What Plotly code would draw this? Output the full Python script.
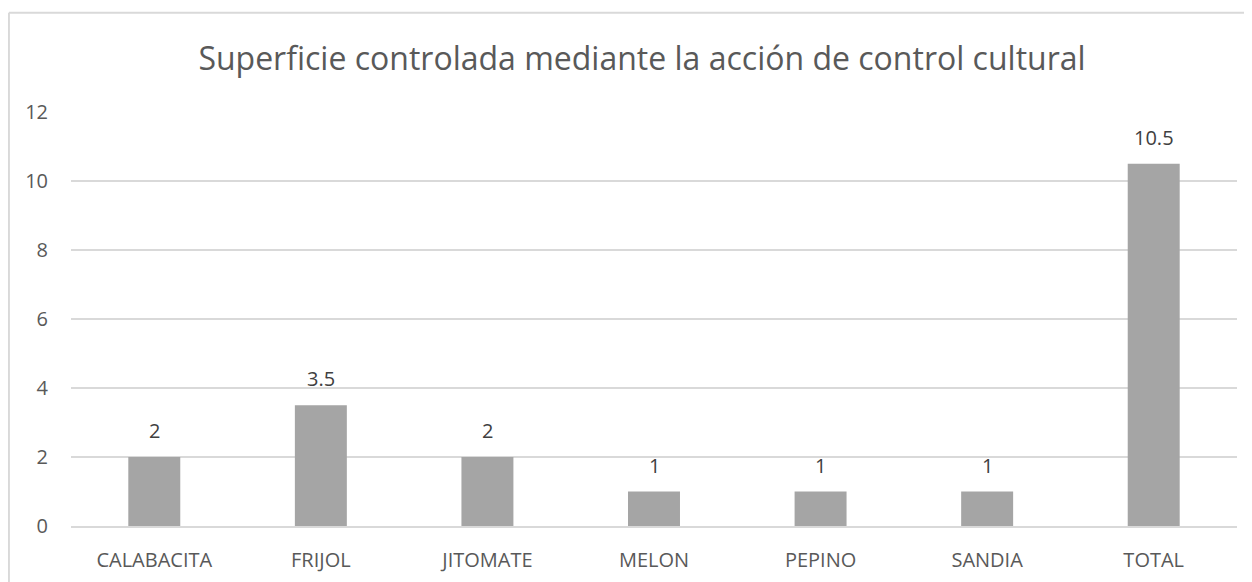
import plotly.graph_objects as go

categories = ["CALABACITA", "FRIJOL", "JITOMATE", "MELON", "PEPINO", "SANDIA", "TOTAL"]
values = [2, 3.5, 2, 1, 1, 1, 10.5]
labels = ["2", "3.5", "2", "1", "1", "1", "10.5"]
title_text = "Superficie controlada mediante la acción de control cultural"

# the page body has an 8px margin, so the figure is drawn 8px to the right and down
OFF = 8
W, H = 1252 - OFF, 582 - OFF
L, R, T, B = 70.7 - OFF, 1237 - OFF, 111.7 - OFF, 526 - OFF

FONT = "Open Sans, sans-serif"

fig = go.Figure(go.Bar(
    x=categories, y=values,
    marker=dict(color="#A5A5A5", line=dict(width=0)),
))

for c, v, t in zip(categories, values, labels):
    fig.add_annotation(x=c, y=v, text=t, showarrow=False, yanchor="bottom",
                       yshift=11, font=dict(family=FONT, size=20, color="#404040"))

pw = R - L
ph = B - T
bx = (0.6 - L) / pw
by = 1 + (T - (12.5 - OFF)) / ph
fig.update_layout(
    width=W, height=H,
    paper_bgcolor="white", plot_bgcolor="white",
    margin=dict(l=L, r=W - R, t=T, b=H - B, pad=0),
    bargap=0.688,
    showlegend=False,
    title=dict(text=title_text, x=(642 - OFF) / W, xanchor="center",
               y=1 - (58.5 - OFF) / H, yanchor="middle",
               font=dict(family=FONT, size=32, color="#595959")),
    xaxis=dict(showgrid=False, showline=True, linecolor="#D9D9D9", linewidth=1.5,
               ticks="", tickfont=dict(family=FONT, size=20, color="#595959"),
               ticklabelstandoff=15, automargin=False),
    yaxis=dict(range=[0, 12], dtick=2, showgrid=True, gridcolor="#D9D9D9", gridwidth=1.5,
               zeroline=False, showline=False, ticks="",
               tickfont=dict(family=FONT, size=20, color="#595959"),
               ticklabelstandoff=22, automargin=False),
    shapes=[
        dict(type="line", xref="paper", yref="paper",
             x0=bx, x1=bx, y0=by, y1=-(H - B + 5) / ph,
             line=dict(color="#D9D9D9", width=2)),
        dict(type="line", xref="paper", yref="paper",
             x0=bx, x1=(W + 5 - L) / pw, y0=by, y1=by,
             line=dict(color="#D9D9D9", width=2)),
    ],
)

fig.write_html("out.html")
